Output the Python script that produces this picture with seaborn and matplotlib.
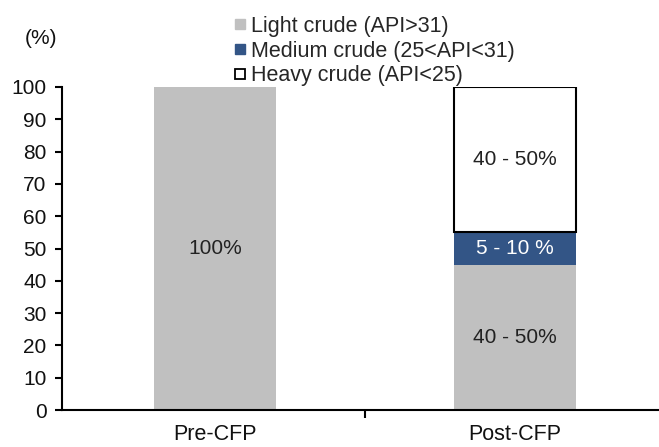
import matplotlib
matplotlib.use("Agg")
import matplotlib.pyplot as plt
from matplotlib.lines import Line2D
import seaborn as sns
import pandas as pd

categories = ["Pre-CFP", "Post-CFP"]
light = [100, 45]
medium = [0, 10]
heavy = [0, 45]
series_names = ["Light crude (API>31)", "Medium crude (25<API<31)", "Heavy crude (API<25)"]
bar_labels = {
    "light": ["100%", "40 - 50%"],
    "medium": ["", "5 - 10 %"],
    "heavy": ["", "40 - 50%"],
}
yticks = list(range(0, 101, 10))

GRAY = "#C0C0C0"
NAVY = "#335586"

sns.set_theme(style="white")
plt.rcParams["font.family"] = ["Liberation Sans", "DejaVu Sans"]

df = pd.DataFrame({"cat": categories, "light": light, "medium": medium, "heavy": heavy})
df["bottom_medium"] = df["light"]
df["bottom_heavy"] = df["light"] + df["medium"]

fig = plt.figure(figsize=(6.59, 4.47), dpi=100)
ax = fig.add_axes([62 / 659, 37 / 447, 597 / 659, 323 / 447])

width = 0.405
sns.barplot(data=df, x="cat", y="light", color=GRAY, width=width, ax=ax,
            saturation=1, linewidth=0, edgecolor=GRAY)
sns.barplot(data=df, x="cat", y="medium", bottom=df["bottom_medium"], color=NAVY,
            width=width, ax=ax, saturation=1, linewidth=0, edgecolor=NAVY)
post = df[df["heavy"] > 0]
ax.bar([categories.index(c) for c in post["cat"]], post["heavy"], bottom=post["bottom_heavy"],
       width=width, color="white", edgecolor="black", linewidth=1.5, zorder=3)

fs = 15
for i in range(len(categories)):
    if light[i]:
        ax.text(i, light[i] / 2, bar_labels["light"][i], ha="center", va="center",
                fontsize=fs, color="#222222", zorder=4)
    if medium[i]:
        ax.text(i, light[i] + medium[i] / 2, bar_labels["medium"][i], ha="center",
                va="center", fontsize=fs, color="white", zorder=4)
    if heavy[i]:
        ax.text(i, light[i] + medium[i] + heavy[i] / 2, bar_labels["heavy"][i],
                ha="center", va="center", fontsize=fs, color="#222222", zorder=4)

ax.set_xlim(-0.51, 1.48)
ax.set_ylim(0, 100)
ax.set_yticks(yticks)
ax.set_yticklabels([str(t) for t in yticks], fontsize=fs, color="#111111")
ax.set_xticks(range(len(categories)))
ax.set_xticklabels(categories, fontsize=15.5, color="#111111")
ax.set_xticks([0.5], minor=True)
ax.tick_params(axis="x", which="major", length=0, pad=10)
ax.tick_params(axis="x", which="minor", length=6, width=1.5, direction="out", color="black", bottom=True)
ax.tick_params(axis="y", which="major", length=5, width=1.5, direction="out", color="black", left=True, pad=6)
ax.set_xlabel("")
ax.set_ylabel("")
for s in ["top", "right"]:
    ax.spines[s].set_visible(False)
for s in ["left", "bottom"]:
    ax.spines[s].set_color("black")
    ax.spines[s].set_linewidth(1.5)

fig.text(41 / 659, 1 - 38 / 447, "(%)", fontsize=fs, ha="center", va="center", color="#111111")

handles = [
    Line2D([], [], marker="s", linestyle="none", markersize=7.5, markerfacecolor=GRAY, markeredgecolor=GRAY),
    Line2D([], [], marker="s", linestyle="none", markersize=7.5, markerfacecolor=NAVY, markeredgecolor=NAVY),
    Line2D([], [], marker="s", linestyle="none", markersize=7.5, markerfacecolor="white",
           markeredgecolor="black", markeredgewidth=1.3),
]
fig.legend(handles, series_names, loc="upper left", bbox_to_anchor=(233.5 / 659, 1 - 16 / 447),
           frameon=False, prop={"family": ["Liberation Sans"], "size": 15.5},
           handlelength=0.6, handletextpad=0.2, labelspacing=0.17, borderpad=0, borderaxespad=0)

fig.savefig("out.png", dpi=100)
